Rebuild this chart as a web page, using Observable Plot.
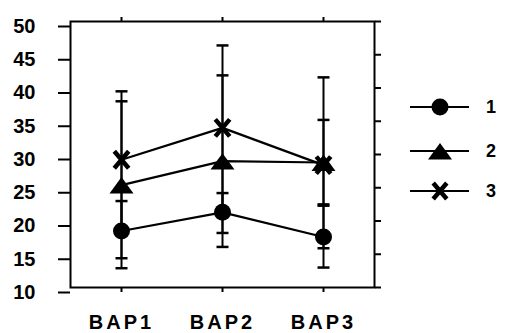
<!DOCTYPE html>
<html><head><meta charset="utf-8">
<script src="https://cdn.jsdelivr.net/npm/d3@7"></script>
<script src="https://cdn.jsdelivr.net/npm/@observablehq/plot@0.6"></script>
<style>body{margin:0;background:#fff} #wrap{position:relative;width:507px;height:333px}
.xlab text{letter-spacing:3px}</style>
</head><body><div id="wrap"></div>
<script>
const categories = ["BAP1", "BAP2", "BAP3"];
const seriesNames = ["1", "2", "3"];
const mean1 = [18.5, 21.3, 17.6];
const low1 = [14.4, 18.2, 13.0];
const high1 = [23.0, 24.2, 22.3];
const mean2 = [25.4, 29.0, 28.8];
const low2 = [12.9, 16.1, 22.5];
const high2 = [38.0, 41.9, 35.2];
const mean3 = [29.2, 34.0, 28.4];
const low3 = [18.3, 21.6, 15.9];
const high3 = [39.5, 46.4, 41.6];
const yTicks = [10, 15, 20, 25, 30, 35, 40, 45, 50];

const seriesData = [[mean1, low1, high1], [mean2, low2, high2], [mean3, low3, high3]];
const rows = [];
seriesNames.forEach((s, si) => {
  categories.forEach((c, ci) => {
    rows.push({series: s, cat: c, mean: seriesData[si][0][ci], low: seriesData[si][1][ci], high: seriesData[si][2][ci]});
  });
});
const caps = rows.flatMap(d => [{cat: d.cat, v: d.low}, {cat: d.cat, v: d.high}]);

const capSymbol = {draw(ctx, size) { ctx.moveTo(-6, 0); ctx.lineTo(6, 0); }};
const triSymbol = {draw(ctx, size) { const r = Math.sqrt(size / Math.PI); ctx.moveTo(0, -r * 1.0); ctx.lineTo(r * 1.5, r * 1.05); ctx.lineTo(-r * 1.5, r * 1.05); ctx.closePath(); }};
const crossSymbol = {draw(ctx, size) { const r = Math.sqrt(size / Math.PI); const w = r * 0.85, h = r * 1.0; ctx.moveTo(-w, -h); ctx.lineTo(w, h); ctx.moveTo(w, -h); ctx.lineTo(-w, h); }};

const font = "'Liberation Sans', Arial, sans-serif";

const chart = Plot.plot({
  width: 507,
  height: 333,
  marginLeft: 70,
  marginRight: 133,
  marginTop: 21,
  marginBottom: 46,
  style: {fontFamily: font, color: "black", background: "white", fontWeight: "bold"},
  x: {type: "point", domain: categories, padding: 0.5, axis: null},
  y: {domain: [10, 50], axis: null},
  marks: [
    Plot.axisY({ticks: yTicks, tickSize: 12, tickPadding: 23, fontSize: 20, dy: 5, strokeWidth: 2, label: null, tickFormat: d => String(d)}),
    Plot.axisY({anchor: "right", ticks: yTicks, tickSize: 6, strokeWidth: 2, label: null, tickFormat: () => ""}),
    Plot.axisX({anchor: "top", tickSize: 5, strokeWidth: 2, label: null, tickFormat: () => ""}),
    Plot.axisX({anchor: "bottom", tickSize: 5, tickPadding: 22, fontSize: 20, strokeWidth: 2, label: null, className: "xlab"}),
    Plot.frame({stroke: "black", strokeWidth: 2}),
    Plot.ruleX(rows, {x: "cat", y1: "low", y2: "high", stroke: "black", strokeWidth: 2}),
    Plot.dot(caps, {x: "cat", y: "v", symbol: capSymbol, r: 6, fill: "none", stroke: "black", strokeWidth: 2.5}),
    Plot.line(rows, {x: "cat", y: "mean", z: "series", stroke: "black", strokeWidth: 2.2}),
    Plot.dot(rows.filter(d => d.series === "1"), {x: "cat", y: "mean", symbol: "circle", r: 8.5, fill: "black", stroke: "none"}),
    Plot.dot(rows.filter(d => d.series === "2"), {x: "cat", y: "mean", symbol: triSymbol, r: 8, fill: "black", stroke: "none"}),
    Plot.dot(rows.filter(d => d.series === "3"), {x: "cat", y: "mean", symbol: crossSymbol, r: 8.5, fill: "none", stroke: "black", strokeWidth: 4.5})
  ]
});
document.getElementById("wrap").appendChild(chart);

// legend on the right
const svg = d3.select(chart);
const legendY = [107, 151, 191];
const legendSymbols = [
  {sym: d3.symbolCircle, r: 8.5, fill: "black", stroke: "none", sw: 0},
  {sym: triSymbol, r: 8, fill: "black", stroke: "none", sw: 0},
  {sym: crossSymbol, r: 8, fill: "none", stroke: "black", sw: 4.5}
];
const lg = svg.append("g").attr("class", "legend");
seriesNames.forEach((name, i) => {
  const y = legendY[i];
  lg.append("line").attr("x1", 410).attr("x2", 469).attr("y1", y).attr("y2", y).attr("stroke", "black").attr("stroke-width", 2);
  const s = legendSymbols[i];
  lg.append("path").attr("transform", `translate(440,${y})`)
    .attr("d", d3.symbol(s.sym, Math.PI * s.r * s.r)())
    .attr("fill", s.fill).attr("stroke", s.stroke).attr("stroke-width", s.sw);
  lg.append("text").attr("x", 491).attr("y", y).attr("dy", "0.35em").attr("text-anchor", "middle")
    .attr("font-size", 18).attr("font-weight", "bold").attr("font-family", font).attr("fill", "black").text(name);
});
</script>
</body></html>
